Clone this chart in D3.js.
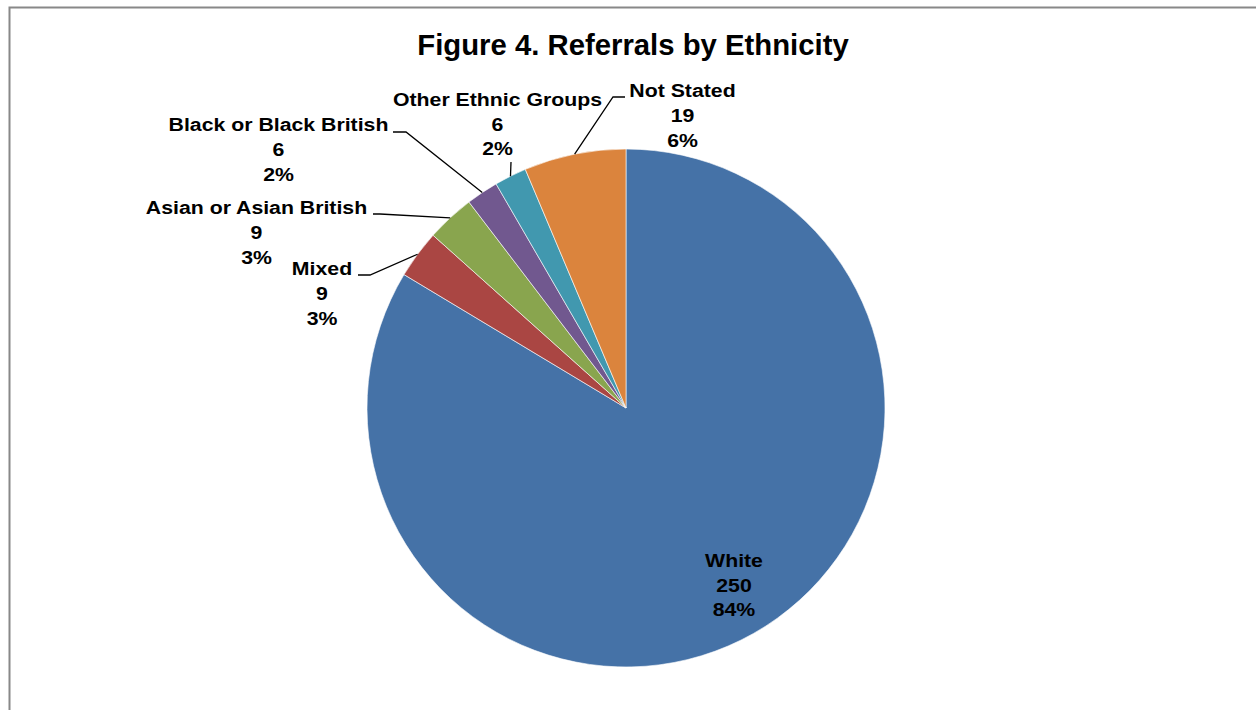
<!DOCTYPE html>
<html>
<head>
<meta charset="utf-8">
<script src="https://cdn.jsdelivr.net/npm/d3@7"></script>
<style>
  html, body { margin: 0; padding: 0; background: #fff; }
  svg { display: block; }
  text { font-family: "Liberation Sans", Arial, sans-serif; font-weight: bold; fill: #000; }
</style>
</head>
<body>
<svg id="chart" width="1256" height="710"></svg>
<script>
const categories = ["White", "Mixed", "Asian or Asian British", "Black or Black British", "Other Ethnic Groups", "Not Stated"];
const values = [250, 9, 9, 6, 6, 19];
const percentLabels = ["84%", "3%", "3%", "2%", "2%", "6%"];
const colors = ["#4572A7", "#AA4643", "#89A54E", "#71588F", "#4198AF", "#DB843D"];
const title = "Figure 4. Referrals by Ethnicity";

// layout: label centre x, first-line baseline y, leader anchor at label side, elbow
const labelLayout = [
  { x: 734, y: 567, inside: true },
  { x: 322, y: 275.5, anchor: [358, 275], elbow: [370, 275] },
  { x: 256.5, y: 214.5, anchor: [373, 214], elbow: [380, 214] },
  { x: 278.5, y: 131.5, anchor: [393, 132], elbow: [406, 132] },
  { x: 497.5, y: 106, vertical: true, anchor: [511, 162] },
  { x: 682.5, y: 97.5, anchor: [625, 97], elbow: [613, 97] }
];

const svg = d3.select("#chart");
const cx = 626, cy = 408, r = 259;
const stretch = 1.12;

svg.append("rect").attr("x", 9.5).attr("y", 7.5).attr("width", 1300).attr("height", 760)
  .attr("fill", "none").attr("stroke", "#888").attr("stroke-width", 2);

svg.append("text").attr("x", 633).attr("y", 55).attr("text-anchor", "middle")
  .style("font-size", "29.3px").text(title);

const data = categories.map((c, i) => ({ name: c, value: values[i], pct: percentLabels[i], color: colors[i], layout: labelLayout[i] }));
const pie = d3.pie().value(d => d.value).sort(null);
const arcs = pie(data);
const arc = d3.arc().innerRadius(0).outerRadius(r);

const g = svg.append("g").attr("transform", `translate(${cx},${cy})`);
g.selectAll("path").data(arcs).join("path")
  .attr("d", arc)
  .attr("fill", d => d.data.color)
  .attr("stroke", "#fff").attr("stroke-width", 0.6);

// leader lines
arcs.forEach(a => {
  const L = a.data.layout;
  if (L.inside) return;
  const mid = (a.startAngle + a.endAngle) / 2;
  const px = cx + r * Math.sin(mid), py = cy - r * Math.cos(mid);
  const pts = L.vertical ? [L.anchor, [px, py]] : [L.anchor, L.elbow, [px, py]];
  svg.append("path").attr("d", d3.line()(pts))
    .attr("fill", "none").attr("stroke", "#000").attr("stroke-width", 1.3);
});

// labels
arcs.forEach(a => {
  const L = a.data.layout;
  const t = svg.append("text").attr("text-anchor", "middle").style("font-size", "19px")
    .attr("transform", `translate(${L.x},0) scale(${stretch},1)`);
  [a.data.name, String(a.data.value), a.data.pct].forEach((s, i) => {
    t.append("tspan").attr("x", 0).attr("y", L.y + i * 24.7).text(s);
  });
});
</script>
</body>
</html>
